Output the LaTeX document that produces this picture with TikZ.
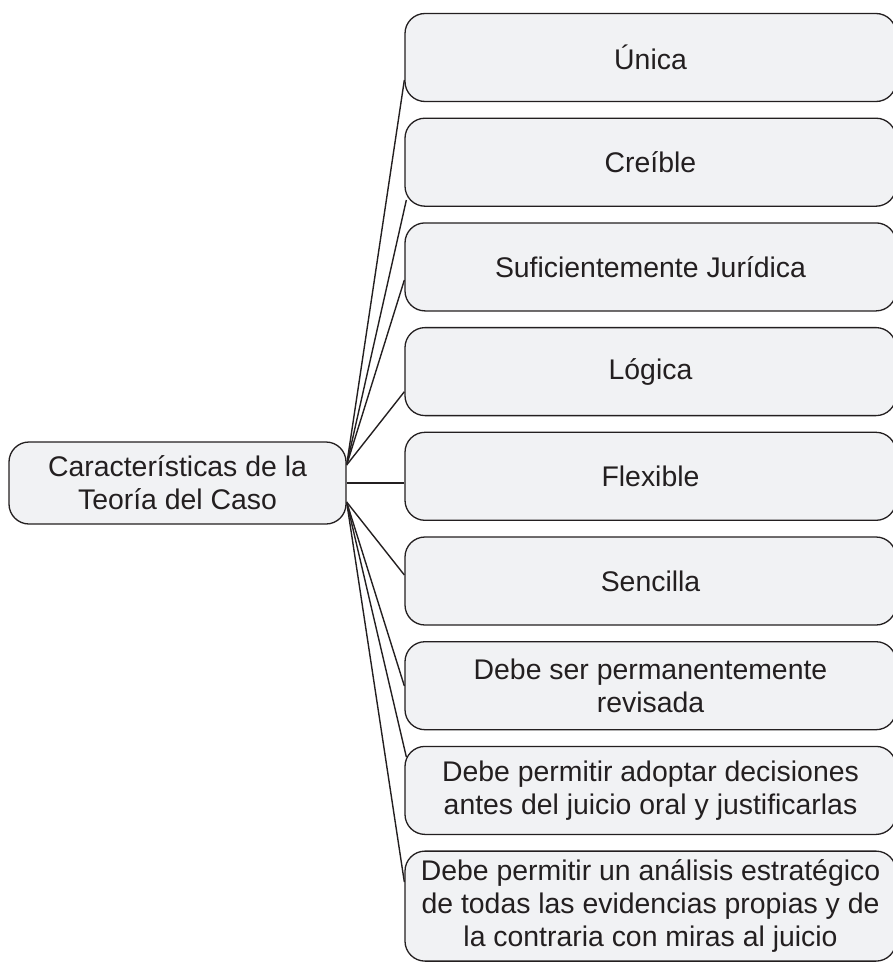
\documentclass[tikz,border=0pt]{standalone}
\usepackage{fontspec}
\setmainfont{Liberation Sans}
\usepackage{tikz}
\usetikzlibrary{positioning,calc,backgrounds}

\definecolor{linegray}{HTML}{231F20}
\definecolor{boxfill}{HTML}{F1F2F4}

\tikzset{
  item/.style={rectangle, draw=linegray, line width=1.3pt, fill=boxfill,
    rounded corners=20pt, minimum width=491pt, minimum height=88pt,
    align=center, text=linegray, font=\fontsize{28.4}{33}\selectfont},
  link/.style={draw=linegray, line width=1.4pt}
}

\begin{document}
\begin{tikzpicture}[x=1pt,y=-1pt]
    \useasboundingbox (0,0) rectangle (892,963);
        \node (root) [item, minimum width=337pt, minimum height=82pt] at (177.5,483) {Características de la\\Teoría del Caso};
        \node (unica) [item] at (650.5,57.5) {Única};
        \node (creible) [item, below=15.4pt of unica] {Creíble};
        \node (juridica) [item, below=15.4pt of creible] {Suficientemente Jurídica};
        \node (logica) [item, below=15.4pt of juridica] {Lógica};
        \node (flexible) [item, below=15.4pt of logica] {Flexible};
        \node (sencilla) [item, below=15.4pt of flexible] {Sencilla};
        \node (revisada) [item, below=15.4pt of sencilla] {Debe ser permanentemente\\revisada};
        \node (adoptar) [item, below=15.4pt of revisada] {Debe permitir adoptar decisiones\\antes del juicio oral y justificarlas};
        \node (analisis) [item, minimum height=110pt, below=15.4pt of adoptar] {Debe permitir un análisis estratégico\\de todas las evidencias propias y de\\la contraria con miras al juicio};
        \begin{scope}[on background layer]
        \draw[link] ($(root.east)+(0,-18)$) -- ($(unica.west)+(0,22.5)$);
        \draw[link] ($(root.east)+(0,-18)$) -- ($(creible.west)+(2,37.8)$);
        \draw[link] ($(root.east)+(0,-18)$) -- ($(juridica.west)+(0,13.1)$);
        \draw[link] ($(root.east)+(0,-18)$) -- ($(logica.west)+(0,20.1)$);
        \draw[link] (root.east) -- (root.east -| flexible.west);
        \draw[link] ($(root.east)+(0,19)$) -- ($(sencilla.west)+(0,-6)$);
        \draw[link] ($(root.east)+(0,19)$) -- ($(revisada.west)+(0,0.3)$);
        \draw[link] ($(root.east)+(0,19)$) -- ($(adoptar.west)+(2,-33.4)$);
        \draw[link] ($(root.east)+(0,19)$) -- ($(analisis.west)+(0,-24)$);
        \end{scope}
    \end{tikzpicture}
\end{document}
